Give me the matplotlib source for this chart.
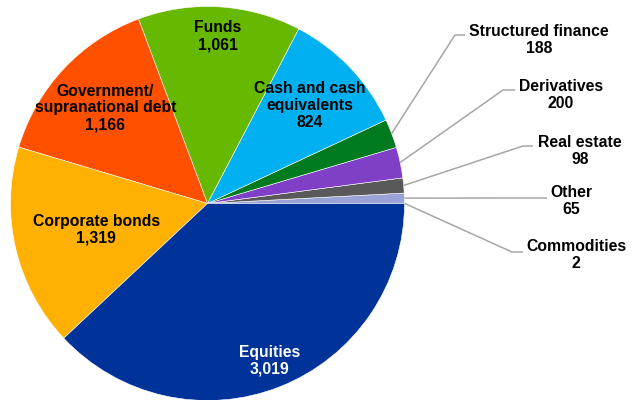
import numpy as np
import matplotlib
matplotlib.use('Agg')
import matplotlib.pyplot as plt

plt.rcParams['font.family'] = ['Liberation Sans', 'DejaVu Sans']

# data (counterclockwise from 3 o'clock)
labels = ['Commodities', 'Other', 'Real estate', 'Derivatives', 'Structured finance',
          'Cash and cash\nequivalents', 'Funds', 'Government/\nsupranational debt',
          'Corporate bonds', 'Equities']
values = [2, 65, 98, 200, 188, 824, 1061, 1166, 1319, 3019]
colors = ['#C8CCE8', '#9BA3D6', '#595959', '#7F3FC6', '#007A1E',
          '#00B0F0', '#66B800', '#FF5000', '#FFB000', '#003399']

W, H = 633, 400
fig = plt.figure(figsize=(W/100, H/100), dpi=100)
ax = fig.add_axes([0, 0, 1, 1])

cx, cy, r = 207.5, H - 203.5, 197
wedges, _ = ax.pie(values, colors=colors, startangle=0, counterclock=True,
                   center=(cx, cy), radius=r, frame=True,
                   wedgeprops=dict(edgecolor='white', linewidth=0.4))
ax.set_xlim(0, W)
ax.set_ylim(0, H)
ax.set_aspect('equal')
ax.axis('off')

def mid(w):
    return np.deg2rad((w.theta1 + w.theta2) / 2)

fs = 11.3
ls = 1.15
# inside labels: label index -> radial fraction
inside = {5: 0.72, 6: 0.85, 7: 0.71, 8: 0.58, 9: 0.86}
for i, frac in inside.items():
    a = mid(wedges[i])
    txt = labels[i] + '\n' + format(values[i], ',')
    ax.text(cx + frac*r*np.cos(a), cy + frac*r*np.sin(a), txt,
            ha='center', va='center', fontsize=fs, fontweight='bold',
            color='white' if i == 9 else 'black', linespacing=ls)

# outside labels: elbow point, line end, text centre (image coords)
outside = {
    4: ((455, 35), (465, 35), (539, 40)),
    3: ((503, 90), (515, 90), (561, 95)),
    2: ((523, 146), (533, 146), (580, 151)),
    1: ((510, 198), (547, 198), (571, 201)),
    0: ((512, 252), (523, 252), (576, 255)),
}
for i, (elb, end, tpos) in outside.items():
    a = mid(wedges[i])
    x0, y0 = cx + r*np.cos(a), cy + r*np.sin(a)
    xs = [x0, elb[0], end[0]]
    ys = [y0, H - elb[1], H - end[1]]
    ax.plot(xs, ys, color='#A6A6A6', lw=1.1, solid_capstyle='butt')
    ax.text(tpos[0], H - tpos[1], labels[i] + '\n' + format(values[i], ','),
            ha='center', va='center', fontsize=fs, fontweight='bold',
            color='black', linespacing=ls)

fig.savefig('out.png', dpi=100)
